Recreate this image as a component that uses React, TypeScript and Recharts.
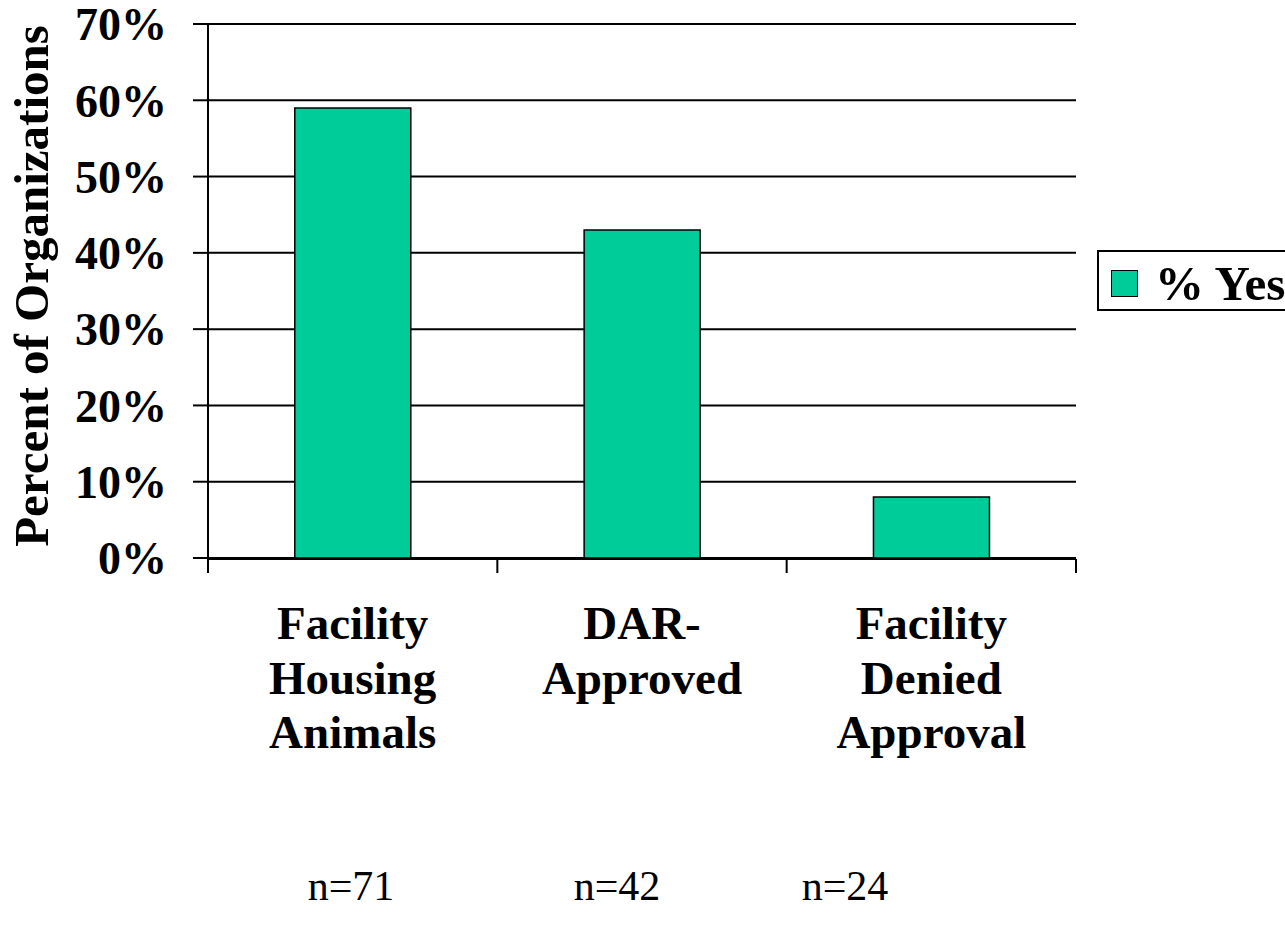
import React from "react"
import { Bar, BarChart, CartesianGrid, Legend, XAxis, YAxis } from "recharts"

// chart data
const categories = ["Facility\nHousing\nAnimals", "DAR-\nApproved", "Facility\nDenied\nApproval"]
const yesPercent = [59, 43, 8]
const sampleSizes = [71, 42, 24]
const yTicks = [0, 10, 20, 30, 40, 50, 60, 70]
// category boundaries (Excel-style ticks between bars)
const frameTicks = [-0.5, 0.5, 1.5, 2.5]

const data = categories.map((name, i) => ({ name, slot: i, yes: yesPercent[i] }))

const FONT = '"Liberation Serif", "Times New Roman", serif'
const GREEN = "#00CC99"
const LINE = { stroke: "#000", strokeWidth: 2 }

// n= notes sit under the chart, not aligned with the bars
const noteCenters = [351, 617, 845]

function CategoryTick({ x, y, payload }: any) {
  const lines = String(payload.value).split("\n")
  return (
    <text x={x} y={y} textAnchor="middle" fontFamily={FONT} fontWeight="bold" fontSize={47} fill="#000">
      {lines.map((line, i) => (
        <tspan key={i} x={x} dy={i === 0 ? 81 : 54.5}>
          {line}
        </tspan>
      ))}
    </text>
  )
}

function YTitle({ viewBox }: any) {
  const cx = viewBox.x + 31
  const cy = viewBox.y + viewBox.height / 2 - 5
  return (
    <text
      x={cx}
      y={cy}
      transform={`rotate(-90, ${cx}, ${cy})`}
      textAnchor="middle"
      dominantBaseline="central"
      fontFamily={FONT}
      fontWeight="bold"
      fontSize={49}
      fill="#000"
    >
      Percent of Organizations
    </text>
  )
}

function LegendBox({ payload }: any) {
  return (
    <div
      style={{
        boxSizing: "border-box",
        height: 61,
        border: "2px solid #000",
        background: "#fff",
        display: "flex",
        alignItems: "center",
        paddingLeft: 12,
        paddingTop: 6,
        fontFamily: FONT,
      }}
    >
      {payload?.map((entry: any) => (
        <div key={entry.value} style={{ display: "flex", alignItems: "center" }}>
          <span
            style={{
              boxSizing: "border-box",
              width: 27,
              height: 27,
              background: entry.color,
              border: "1.5px solid #000",
              marginRight: 17,
            }}
          />
          <span style={{ fontSize: 49, fontWeight: "bold", lineHeight: 1, whiteSpace: "nowrap" }}>
            {entry.value}
          </span>
        </div>
      ))}
    </div>
  )
}

export default function App() {
  return (
    <div
      style={{
        position: "absolute",
        left: 0,
        top: 0,
        width: 1285,
        height: 928,
        overflow: "hidden",
        background: "#fff",
      }}
    >
      <BarChart
        width={1285}
        height={928}
        data={data}
        margin={{ top: 24, right: 209, bottom: 368, left: 0 }}
        barCategoryGap="30%"
      >
        <CartesianGrid xAxisId="cat" vertical={false} stroke="#000" strokeWidth={2} />
        <XAxis
          xAxisId="cat"
          dataKey="name"
          height={1}
          interval={0}
          tickLine={false}
          axisLine={false}
          tickSize={0}
          tickMargin={0}
          tick={<CategoryTick />}
        />
        <XAxis
          xAxisId="frame"
          type="number"
          dataKey="slot"
          domain={[-0.5, 2.5]}
          ticks={frameTicks}
          interval={0}
          allowDataOverflow
          height={1}
          tickSize={14}
          tick={() => null}
          tickLine={LINE}
          axisLine={LINE}
        />
        <YAxis
          width={208}
          domain={[0, 70]}
          ticks={yTicks}
          interval={0}
          tickFormatter={(v) => `${v}%`}
          tickSize={15}
          tickMargin={26}
          tickLine={LINE}
          axisLine={LINE}
          tick={{ fill: "#000", fontSize: 46, fontWeight: "bold", fontFamily: FONT }}
          label={<YTitle />}
        />
        <YAxis
          yAxisId="r"
          orientation="right"
          width={0}
          domain={[0, 70]}
          tick={false}
          tickLine={false}
          axisLine={LINE}
        />
        <Legend
          layout="vertical"
          align="center"
          verticalAlign="middle"
          wrapperStyle={{ left: 1097, top: 250, width: 260, height: 61 }}
          content={<LegendBox />}
        />
        <Bar
          xAxisId="cat"
          dataKey="yes"
          name="% Yes"
          fill={GREEN}
          stroke="#000"
          strokeWidth={1.5}
          isAnimationActive={false}
        />
      </BarChart>
      {sampleSizes.map((n, i) => (
        <div
          key={n}
          style={{
            position: "absolute",
            left: noteCenters[i] - 100,
            width: 200,
            top: 865,
            textAlign: "center",
            fontFamily: FONT,
            fontSize: 42,
            lineHeight: "42px",
            color: "#000",
          }}
        >
          n={n}
        </div>
      ))}
    </div>
  )
}
